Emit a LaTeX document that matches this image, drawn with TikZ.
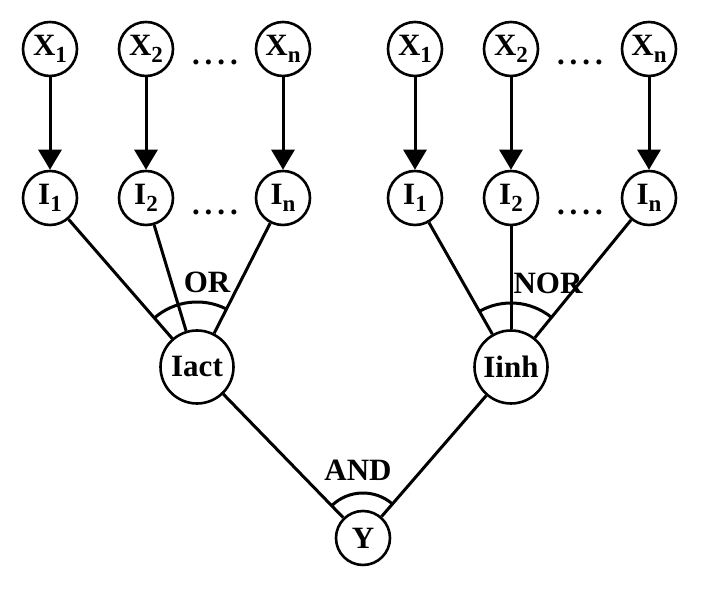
\documentclass[tikz,border=0pt]{standalone}
\usepackage{fontspec}
\setmainfont{Liberation Serif}
\usetikzlibrary{arrows.meta}
\newcommand{\lowidx}[1]{\raisebox{-7pt}{\fontsize{23}{23}\selectfont #1}}

\begin{document}
\begin{tikzpicture}[x=1pt, y=1pt, font=\fontsize{31}{31}\selectfont\bfseries,
    unit/.style={draw, circle, line width=2.6pt, minimum size=54pt, inner sep=0pt},
    bigunit/.style={unit, minimum size=73pt},
    wire/.style={line width=3pt},
    arr/.style={wire, -{Triangle[width=23pt,length=20pt]}}]
    \useasboundingbox (0,0) rectangle (702,601);

    % activating group
    \node[unit] (xa1) at (50,552) {X\lowidx{1}};
    \node[unit] (xa2) at (146,552) {X\lowidx{2}};
    \node[unit] (xan) at (283,552) {X\lowidx{n}};
    \node[unit] (ia1) at (50,403) {I\lowidx{1}};
    \node[unit] (ia2) at (146,403) {I\lowidx{2}};
    \node[unit] (ian) at (283,403) {I\lowidx{n}};
    \node[anchor=base] (dxa) at (215,536) {.\kern5pt.\kern5pt.\kern5pt.};
    \node[anchor=base] (dia) at (215,386) {.\kern5pt.\kern5pt.\kern5pt.};

    % inhibiting group
    \node[unit] (xb1) at (415,552) {X\lowidx{1}};
    \node[unit] (xb2) at (511,552) {X\lowidx{2}};
    \node[unit] (xbn) at (649,552) {X\lowidx{n}};
    \node[unit] (ib1) at (415,403) {I\lowidx{1}};
    \node[unit] (ib2) at (511,403) {I\lowidx{2}};
    \node[unit] (ibn) at (649,403) {I\lowidx{n}};
    \node[anchor=base] (dxb) at (580,536) {.\kern5pt.\kern5pt.\kern5pt.};
    \node[anchor=base] (dib) at (580,386) {.\kern5pt.\kern5pt.\kern5pt.};

    \node[bigunit] (iact) at (197,234) {Iact};
    \node[bigunit] (iinh) at (511,234) {Iinh};
    \node[unit] (y) at (363,63) {Y};

    \node (orlbl) at (207,319) {OR};
    \node (norlbl) at (548,318) {NOR};
    \node (andlbl) at (358,131) {AND};

    \foreach \g in {a,b}
        \foreach \k in {1,2,n}
            \draw[arr] (x\g\k) -- (i\g\k);

    \foreach \k in {1,2,n} {
        \draw[wire] (ia\k) -- (iact);
        \draw[wire] (ib\k) -- (iinh);
    }
    \draw[wire] (iact) -- (y);
    \draw[wire] (iinh) -- (y);

    % gate arcs
    \draw[wire] (iact.center) ++(63:65) arc[start angle=63, end angle=131, radius=65];
    \draw[wire] (iinh.center) ++(51:64) arc[start angle=51, end angle=120, radius=64];
    \draw[wire] (y.center) ++(49:45) arc[start angle=49, end angle=134, radius=45];
\end{tikzpicture}
\end{document}
